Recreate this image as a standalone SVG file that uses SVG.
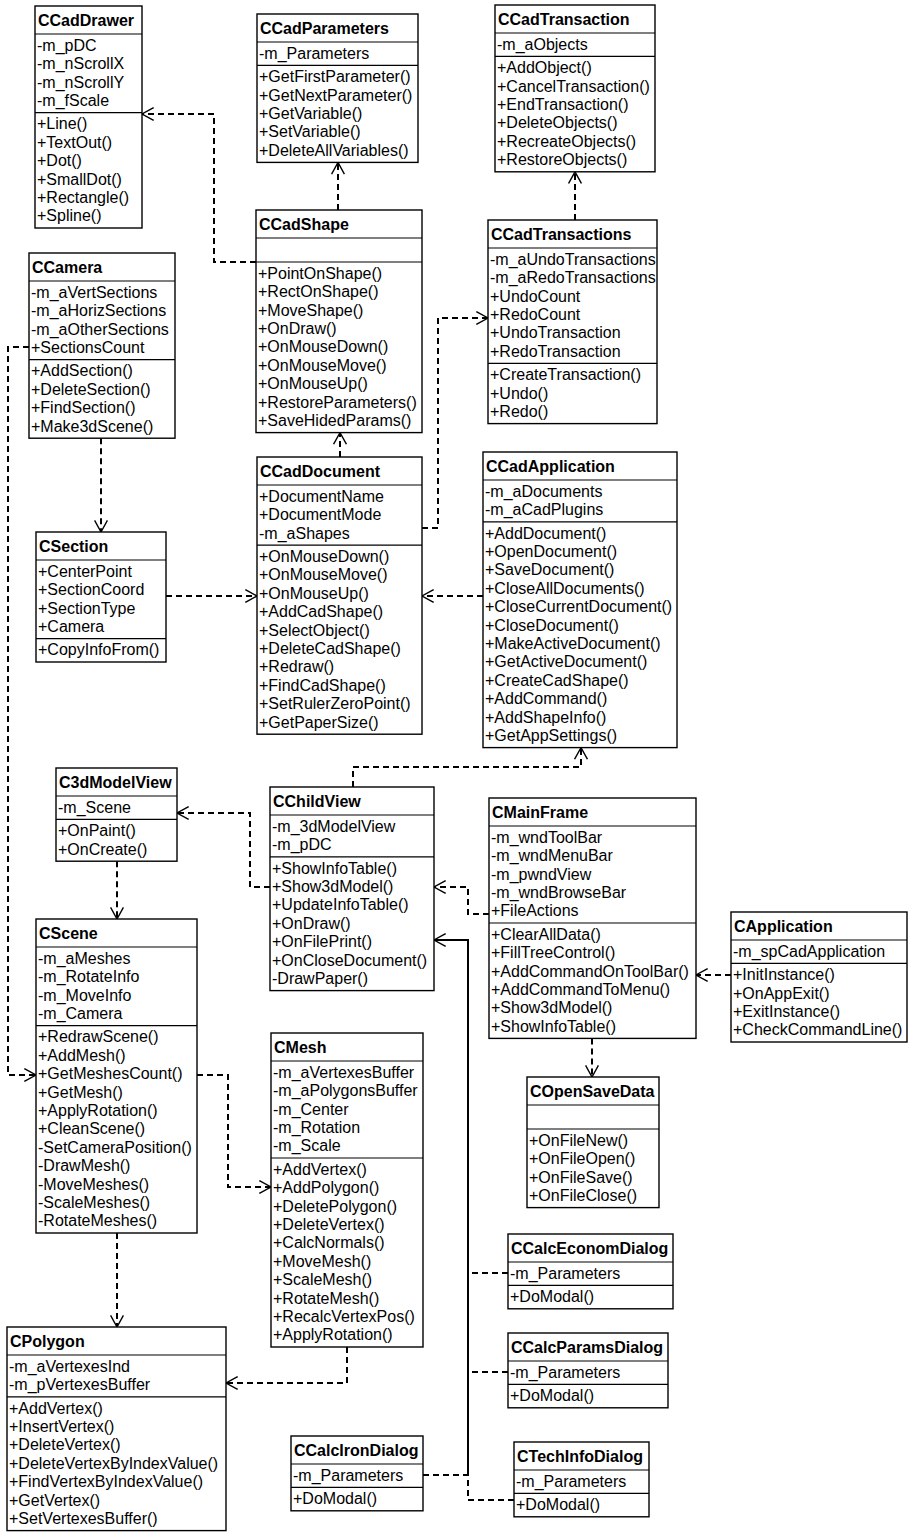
<svg xmlns="http://www.w3.org/2000/svg" width="908" height="1532" viewBox="0 0 908 1532">
<style>
.n rect{fill:#fff;stroke:#000;stroke-width:1.4}
.n line{stroke:#000;stroke-width:1.2}
.t{font-family:"Liberation Sans",Arial,sans-serif;font-size:16px;font-weight:bold;fill:#000}
.m{font-family:"Liberation Sans",Arial,sans-serif;font-size:16px;fill:#000}
.c path{fill:none;stroke:#000;stroke-width:2;stroke-dasharray:6 4}
.c path.solid{stroke-dasharray:none}
</style>
<defs>
<marker id="arr" markerUnits="userSpaceOnUse" markerWidth="14" markerHeight="14" viewBox="0 0 12 12" refX="11" refY="6" orient="auto">
<path d="M1,0.5 L11,6 L1,11.5" fill="none" stroke="#000" stroke-width="1.2"/>
</marker>
</defs>
<rect x="0" y="0" width="908" height="1532" fill="#fff"/>

<g class="c" id="connectors">
<path d="M256,262 H214 V114 H142" marker-end="url(#arr)"/>
<path d="M338,210 V162.4" marker-end="url(#arr)"/>
<path d="M340,457 V432.6" marker-end="url(#arr)"/>
<path d="M422,528 H438 V318 H488" marker-end="url(#arr)"/>
<path d="M575,220 V171.8" marker-end="url(#arr)"/>
<path d="M101,438.2 V532" marker-end="url(#arr)"/>
<path d="M166,596 H257" marker-end="url(#arr)"/>
<path d="M483,596 H422" marker-end="url(#arr)"/>
<path d="M353,787 V767 H581 V747.6" marker-end="url(#arr)"/>
<path d="M270,887 H250 V813 H177" marker-end="url(#arr)"/>
<path d="M489,914 H468 V887 H434" marker-end="url(#arr)"/>
<path d="M731,975 H696" marker-end="url(#arr)"/>
<path d="M592,1038.4 V1077" marker-end="url(#arr)"/>
<path d="M117,861.2 V919" marker-end="url(#arr)"/>
<path d="M29,347 H8 V1075 H36" marker-end="url(#arr)"/>
<path d="M197,1075 H228 V1187 H271" marker-end="url(#arr)"/>
<path d="M117,1233 V1327" marker-end="url(#arr)"/>
<path d="M347,1347 V1383 H226" marker-end="url(#arr)"/>
<path class="solid" d="M468,1475 V940 H434" marker-end="url(#arr)"/>
<path d="M508,1273 H468"/>
<path d="M508,1372 H468"/>
<path d="M423,1475 H468"/>
<path d="M514,1500 H468 V1475"/>
</g>

<g class="n" id="CCadDrawer">
<rect x="35" y="6" width="107" height="222"/>
<line x1="35" y1="34" x2="142" y2="34"/><line x1="35" y1="112.6" x2="142" y2="112.6"/>
<text class="t" x="38" y="26">CCadDrawer</text>
<text class="m" x="37" y="50.8"><tspan x="37">-m_pDC</tspan><tspan x="37" dy="18.4">-m_nScrollX</tspan><tspan x="37" dy="18.4">-m_nScrollY</tspan><tspan x="37" dy="18.4">-m_fScale</tspan></text>
<text class="m" x="37" y="129.4"><tspan x="37">+Line()</tspan><tspan x="37" dy="18.4">+TextOut()</tspan><tspan x="37" dy="18.4">+Dot()</tspan><tspan x="37" dy="18.4">+SmallDot()</tspan><tspan x="37" dy="18.4">+Rectangle()</tspan><tspan x="37" dy="18.4">+Spline()</tspan></text>
</g>

<g class="n" id="CCadParameters">
<rect x="257" y="14" width="161" height="148.4"/>
<line x1="257" y1="42" x2="418" y2="42"/><line x1="257" y1="65.4" x2="418" y2="65.4"/>
<text class="t" x="260" y="34">CCadParameters</text>
<text class="m" x="259" y="58.8">-m_Parameters</text>
<text class="m" x="259" y="82.2"><tspan x="259">+GetFirstParameter()</tspan><tspan x="259" dy="18.4">+GetNextParameter()</tspan><tspan x="259" dy="18.4">+GetVariable()</tspan><tspan x="259" dy="18.4">+SetVariable()</tspan><tspan x="259" dy="18.4">+DeleteAllVariables()</tspan></text>
</g>

<g class="n" id="CCadTransaction">
<rect x="495" y="5" width="160" height="166.8"/>
<line x1="495" y1="33" x2="655" y2="33"/><line x1="495" y1="56.4" x2="655" y2="56.4"/>
<text class="t" x="498" y="25">CCadTransaction</text>
<text class="m" x="497" y="49.8">-m_aObjects</text>
<text class="m" x="497" y="73.2"><tspan x="497">+AddObject()</tspan><tspan x="497" dy="18.4">+CancelTransaction()</tspan><tspan x="497" dy="18.4">+EndTransaction()</tspan><tspan x="497" dy="18.4">+DeleteObjects()</tspan><tspan x="497" dy="18.4">+RecreateObjects()</tspan><tspan x="497" dy="18.4">+RestoreObjects()</tspan></text>
</g>

<g class="n" id="CCadShape">
<rect x="256" y="210" width="166" height="222.6"/>
<line x1="256" y1="238" x2="422" y2="238"/><line x1="256" y1="262" x2="422" y2="262"/>
<text class="t" x="259" y="230">CCadShape</text>
<text class="m" x="258" y="278.8"><tspan x="258">+PointOnShape()</tspan><tspan x="258" dy="18.4">+RectOnShape()</tspan><tspan x="258" dy="18.4">+MoveShape()</tspan><tspan x="258" dy="18.4">+OnDraw()</tspan><tspan x="258" dy="18.4">+OnMouseDown()</tspan><tspan x="258" dy="18.4">+OnMouseMove()</tspan><tspan x="258" dy="18.4">+OnMouseUp()</tspan><tspan x="258" dy="18.4">+RestoreParameters()</tspan><tspan x="258" dy="18.4">+SaveHidedParams()</tspan></text>
</g>

<g class="n" id="CCadTransactions">
<rect x="488" y="220" width="169" height="203.6"/>
<line x1="488" y1="248" x2="657" y2="248"/><line x1="488" y1="363.4" x2="657" y2="363.4"/>
<text class="t" x="491" y="240">CCadTransactions</text>
<text class="m" x="490" y="264.8"><tspan x="490">-m_aUndoTransactions</tspan><tspan x="490" dy="18.4">-m_aRedoTransactions</tspan><tspan x="490" dy="18.4">+UndoCount</tspan><tspan x="490" dy="18.4">+RedoCount</tspan><tspan x="490" dy="18.4">+UndoTransaction</tspan><tspan x="490" dy="18.4">+RedoTransaction</tspan></text>
<text class="m" x="490" y="380.2"><tspan x="490">+CreateTransaction()</tspan><tspan x="490" dy="18.4">+Undo()</tspan><tspan x="490" dy="18.4">+Redo()</tspan></text>
</g>

<g class="n" id="CCamera">
<rect x="29" y="253" width="146" height="185.2"/>
<line x1="29" y1="281" x2="175" y2="281"/><line x1="29" y1="359.6" x2="175" y2="359.6"/>
<text class="t" x="32" y="273">CCamera</text>
<text class="m" x="31" y="297.8"><tspan x="31">-m_aVertSections</tspan><tspan x="31" dy="18.4">-m_aHorizSections</tspan><tspan x="31" dy="18.4">-m_aOtherSections</tspan><tspan x="31" dy="18.4">+SectionsCount</tspan></text>
<text class="m" x="31" y="376.4"><tspan x="31">+AddSection()</tspan><tspan x="31" dy="18.4">+DeleteSection()</tspan><tspan x="31" dy="18.4">+FindSection()</tspan><tspan x="31" dy="18.4">+Make3dScene()</tspan></text>
</g>

<g class="n" id="CCadDocument">
<rect x="257" y="457" width="165" height="277.2"/>
<line x1="257" y1="485" x2="422" y2="485"/><line x1="257" y1="545.2" x2="422" y2="545.2"/>
<text class="t" x="260" y="477">CCadDocument</text>
<text class="m" x="259" y="501.8"><tspan x="259">+DocumentName</tspan><tspan x="259" dy="18.4">+DocumentMode</tspan><tspan x="259" dy="18.4">-m_aShapes</tspan></text>
<text class="m" x="259" y="562"><tspan x="259">+OnMouseDown()</tspan><tspan x="259" dy="18.4">+OnMouseMove()</tspan><tspan x="259" dy="18.4">+OnMouseUp()</tspan><tspan x="259" dy="18.4">+AddCadShape()</tspan><tspan x="259" dy="18.4">+SelectObject()</tspan><tspan x="259" dy="18.4">+DeleteCadShape()</tspan><tspan x="259" dy="18.4">+Redraw()</tspan><tspan x="259" dy="18.4">+FindCadShape()</tspan><tspan x="259" dy="18.4">+SetRulerZeroPoint()</tspan><tspan x="259" dy="18.4">+GetPaperSize()</tspan></text>
</g>

<g class="n" id="CCadApplication">
<rect x="483" y="452" width="194" height="295.6"/>
<line x1="483" y1="480" x2="677" y2="480"/><line x1="483" y1="521.8" x2="677" y2="521.8"/>
<text class="t" x="486" y="472">CCadApplication</text>
<text class="m" x="485" y="496.8"><tspan x="485">-m_aDocuments</tspan><tspan x="485" dy="18.4">-m_aCadPlugins</tspan></text>
<text class="m" x="485" y="538.6"><tspan x="485">+AddDocument()</tspan><tspan x="485" dy="18.4">+OpenDocument()</tspan><tspan x="485" dy="18.4">+SaveDocument()</tspan><tspan x="485" dy="18.4">+CloseAllDocuments()</tspan><tspan x="485" dy="18.4">+CloseCurrentDocument()</tspan><tspan x="485" dy="18.4">+CloseDocument()</tspan><tspan x="485" dy="18.4">+MakeActiveDocument()</tspan><tspan x="485" dy="18.4">+GetActiveDocument()</tspan><tspan x="485" dy="18.4">+CreateCadShape()</tspan><tspan x="485" dy="18.4">+AddCommand()</tspan><tspan x="485" dy="18.4">+AddShapeInfo()</tspan><tspan x="485" dy="18.4">+GetAppSettings()</tspan></text>
</g>

<g class="n" id="CSection">
<rect x="36" y="532" width="130" height="130"/>
<line x1="36" y1="560" x2="166" y2="560"/><line x1="36" y1="638.6" x2="166" y2="638.6"/>
<text class="t" x="39" y="552">CSection</text>
<text class="m" x="38" y="576.8"><tspan x="38">+CenterPoint</tspan><tspan x="38" dy="18.4">+SectionCoord</tspan><tspan x="38" dy="18.4">+SectionType</tspan><tspan x="38" dy="18.4">+Camera</tspan></text>
<text class="m" x="38" y="655.4">+CopyInfoFrom()</text>
</g>

<g class="n" id="C3dModelView">
<rect x="56" y="768" width="121" height="93.2"/>
<line x1="56" y1="796" x2="177" y2="796"/><line x1="56" y1="819.4" x2="177" y2="819.4"/>
<text class="t" x="59" y="788">C3dModelView</text>
<text class="m" x="58" y="812.8">-m_Scene</text>
<text class="m" x="58" y="836.2"><tspan x="58">+OnPaint()</tspan><tspan x="58" dy="18.4">+OnCreate()</tspan></text>
</g>

<g class="n" id="CChildView">
<rect x="270" y="787" width="164" height="203.6"/>
<line x1="270" y1="815" x2="434" y2="815"/><line x1="270" y1="856.8" x2="434" y2="856.8"/>
<text class="t" x="273" y="807">CChildView</text>
<text class="m" x="272" y="831.8"><tspan x="272">-m_3dModelView</tspan><tspan x="272" dy="18.4">-m_pDC</tspan></text>
<text class="m" x="272" y="873.6"><tspan x="272">+ShowInfoTable()</tspan><tspan x="272" dy="18.4">+Show3dModel()</tspan><tspan x="272" dy="18.4">+UpdateInfoTable()</tspan><tspan x="272" dy="18.4">+OnDraw()</tspan><tspan x="272" dy="18.4">+OnFilePrint()</tspan><tspan x="272" dy="18.4">+OnCloseDocument()</tspan><tspan x="272" dy="18.4">-DrawPaper()</tspan></text>
</g>

<g class="n" id="CMainFrame">
<rect x="489" y="798" width="207" height="240.4"/>
<line x1="489" y1="826" x2="696" y2="826"/><line x1="489" y1="923" x2="696" y2="923"/>
<text class="t" x="492" y="818">CMainFrame</text>
<text class="m" x="491" y="842.8"><tspan x="491">-m_wndToolBar</tspan><tspan x="491" dy="18.4">-m_wndMenuBar</tspan><tspan x="491" dy="18.4">-m_pwndView</tspan><tspan x="491" dy="18.4">-m_wndBrowseBar</tspan><tspan x="491" dy="18.4">+FileActions</tspan></text>
<text class="m" x="491" y="939.8"><tspan x="491">+ClearAllData()</tspan><tspan x="491" dy="18.4">+FillTreeControl()</tspan><tspan x="491" dy="18.4">+AddCommandOnToolBar()</tspan><tspan x="491" dy="18.4">+AddCommandToMenu()</tspan><tspan x="491" dy="18.4">+Show3dModel()</tspan><tspan x="491" dy="18.4">+ShowInfoTable()</tspan></text>
</g>

<g class="n" id="CApplication">
<rect x="731" y="912" width="176" height="130"/>
<line x1="731" y1="940" x2="907" y2="940"/><line x1="731" y1="963.4" x2="907" y2="963.4"/>
<text class="t" x="734" y="932">CApplication</text>
<text class="m" x="733" y="956.8">-m_spCadApplication</text>
<text class="m" x="733" y="980.2"><tspan x="733">+InitInstance()</tspan><tspan x="733" dy="18.4">+OnAppExit()</tspan><tspan x="733" dy="18.4">+ExitInstance()</tspan><tspan x="733" dy="18.4">+CheckCommandLine()</tspan></text>
</g>

<g class="n" id="COpenSaveData">
<rect x="527" y="1077" width="132" height="130.6"/>
<line x1="527" y1="1105" x2="659" y2="1105"/><line x1="527" y1="1129" x2="659" y2="1129"/>
<text class="t" x="530" y="1097">COpenSaveData</text>
<text class="m" x="529" y="1145.8"><tspan x="529">+OnFileNew()</tspan><tspan x="529" dy="18.4">+OnFileOpen()</tspan><tspan x="529" dy="18.4">+OnFileSave()</tspan><tspan x="529" dy="18.4">+OnFileClose()</tspan></text>
</g>

<g class="n" id="CScene">
<rect x="36" y="919" width="161" height="314"/>
<line x1="36" y1="947" x2="197" y2="947"/><line x1="36" y1="1025.6" x2="197" y2="1025.6"/>
<text class="t" x="39" y="939">CScene</text>
<text class="m" x="38" y="963.8"><tspan x="38">-m_aMeshes</tspan><tspan x="38" dy="18.4">-m_RotateInfo</tspan><tspan x="38" dy="18.4">-m_MoveInfo</tspan><tspan x="38" dy="18.4">-m_Camera</tspan></text>
<text class="m" x="38" y="1042.4"><tspan x="38">+RedrawScene()</tspan><tspan x="38" dy="18.4">+AddMesh()</tspan><tspan x="38" dy="18.4">+GetMeshesCount()</tspan><tspan x="38" dy="18.4">+GetMesh()</tspan><tspan x="38" dy="18.4">+ApplyRotation()</tspan><tspan x="38" dy="18.4">+CleanScene()</tspan><tspan x="38" dy="18.4">-SetCameraPosition()</tspan><tspan x="38" dy="18.4">-DrawMesh()</tspan><tspan x="38" dy="18.4">-MoveMeshes()</tspan><tspan x="38" dy="18.4">-ScaleMeshes()</tspan><tspan x="38" dy="18.4">-RotateMeshes()</tspan></text>
</g>

<g class="n" id="CMesh">
<rect x="271" y="1033" width="152" height="314"/>
<line x1="271" y1="1061" x2="423" y2="1061"/><line x1="271" y1="1158" x2="423" y2="1158"/>
<text class="t" x="274" y="1053">CMesh</text>
<text class="m" x="273" y="1077.8"><tspan x="273">-m_aVertexesBuffer</tspan><tspan x="273" dy="18.4">-m_aPolygonsBuffer</tspan><tspan x="273" dy="18.4">-m_Center</tspan><tspan x="273" dy="18.4">-m_Rotation</tspan><tspan x="273" dy="18.4">-m_Scale</tspan></text>
<text class="m" x="273" y="1174.8"><tspan x="273">+AddVertex()</tspan><tspan x="273" dy="18.4">+AddPolygon()</tspan><tspan x="273" dy="18.4">+DeletePolygon()</tspan><tspan x="273" dy="18.4">+DeleteVertex()</tspan><tspan x="273" dy="18.4">+CalcNormals()</tspan><tspan x="273" dy="18.4">+MoveMesh()</tspan><tspan x="273" dy="18.4">+ScaleMesh()</tspan><tspan x="273" dy="18.4">+RotateMesh()</tspan><tspan x="273" dy="18.4">+RecalcVertexPos()</tspan><tspan x="273" dy="18.4">+ApplyRotation()</tspan></text>
</g>

<g class="n" id="CPolygon">
<rect x="7" y="1327" width="219" height="203.6"/>
<line x1="7" y1="1355" x2="226" y2="1355"/><line x1="7" y1="1396.8" x2="226" y2="1396.8"/>
<text class="t" x="10" y="1347">CPolygon</text>
<text class="m" x="9" y="1371.8"><tspan x="9">-m_aVertexesInd</tspan><tspan x="9" dy="18.4">-m_pVertexesBuffer</tspan></text>
<text class="m" x="9" y="1413.6"><tspan x="9">+AddVertex()</tspan><tspan x="9" dy="18.4">+InsertVertex()</tspan><tspan x="9" dy="18.4">+DeleteVertex()</tspan><tspan x="9" dy="18.4">+DeleteVertexByIndexValue()</tspan><tspan x="9" dy="18.4">+FindVertexByIndexValue()</tspan><tspan x="9" dy="18.4">+GetVertex()</tspan><tspan x="9" dy="18.4">+SetVertexesBuffer()</tspan></text>
</g>

<g class="n" id="CCalcEconomDialog">
<rect x="508" y="1234" width="165" height="74.8"/>
<line x1="508" y1="1262" x2="673" y2="1262"/><line x1="508" y1="1285.4" x2="673" y2="1285.4"/>
<text class="t" x="511" y="1254">CCalcEconomDialog</text>
<text class="m" x="510" y="1278.8">-m_Parameters</text>
<text class="m" x="510" y="1302.2">+DoModal()</text>
</g>

<g class="n" id="CCalcParamsDialog">
<rect x="508" y="1333" width="160" height="74.8"/>
<line x1="508" y1="1361" x2="668" y2="1361"/><line x1="508" y1="1384.4" x2="668" y2="1384.4"/>
<text class="t" x="511" y="1353">CCalcParamsDialog</text>
<text class="m" x="510" y="1377.8">-m_Parameters</text>
<text class="m" x="510" y="1401.2">+DoModal()</text>
</g>

<g class="n" id="CCalcIronDialog">
<rect x="291" y="1436" width="132" height="74.8"/>
<line x1="291" y1="1464" x2="423" y2="1464"/><line x1="291" y1="1487.4" x2="423" y2="1487.4"/>
<text class="t" x="294" y="1456">CCalcIronDialog</text>
<text class="m" x="293" y="1480.8">-m_Parameters</text>
<text class="m" x="293" y="1504.2">+DoModal()</text>
</g>

<g class="n" id="CTechInfoDialog">
<rect x="514" y="1442" width="135" height="74.8"/>
<line x1="514" y1="1470" x2="649" y2="1470"/><line x1="514" y1="1493.4" x2="649" y2="1493.4"/>
<text class="t" x="517" y="1462">CTechInfoDialog</text>
<text class="m" x="516" y="1486.8">-m_Parameters</text>
<text class="m" x="516" y="1510.2">+DoModal()</text>
</g>
</svg>
